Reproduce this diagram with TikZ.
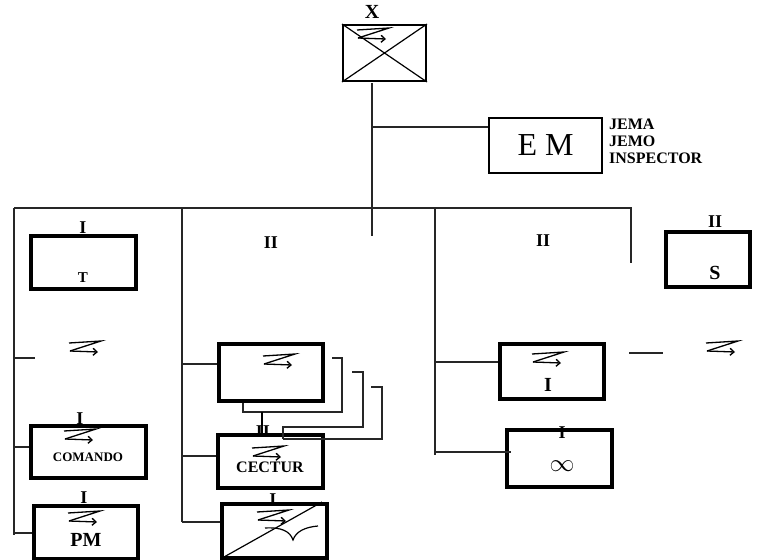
\documentclass[tikz,border=0pt]{standalone}
\usepackage{fontspec}
\setmainfont{Liberation Serif}
\usetikzlibrary{arrows.meta, positioning, calc}

\tikzset{
  unidad/.style={draw, line width=3.2pt, inner sep=0pt},
  enlace/.style={line width=1.3pt, black!85},
  rotulo/.style={font=\bfseries\fontsize{18}{18}\selectfont, inner sep=0pt},
  signo/.pic={
    \draw[line width=1.3pt] (-16,-5) -- (16,-7) -- (-15,3);
    \draw[line width=1.3pt, -{Straight Barb[length=4pt,width=7pt]}] (-15,3) -- (13,4);
  }
}

\begin{document}
\begin{tikzpicture}[x=1pt, y=-1pt]
\useasboundingbox (0,0) rectangle (761,560);

% mando superior
\node[draw, line width=2pt, minimum width=83pt, minimum height=56pt] (X) at (384.5,53) {};
\draw[line width=1.2pt] (X.north west) -- (X.south east) (X.north east) -- (X.south west);
\pic at (373,35) {signo};
\node[rotulo, font=\bfseries\fontsize{20}{20}\selectfont] (Xl) at (372,12) {X};

\node[draw, line width=2pt, minimum width=113pt, minimum height=55pt,
      font=\fontsize{32}{32}\selectfont] (EM) at (545.5,145.5) {E M};
\node[anchor=west, align=left, inner sep=0pt, font=\bfseries\fontsize{16}{17}\selectfont] (cargos) at (609,141) {JEMA\\JEMO\\INSPECTOR};

\coordinate (t1) at (372,83);
\coordinate (t2) at (372,236);
\coordinate (e1) at (372,127);
\draw[enlace] (t1) -- (t2);
\draw[enlace] (e1) -- (e1 -| EM.west);

% barra general
\coordinate (bA) at (14,208);
\coordinate (bB) at (182,208);
\coordinate (bC) at (435,208);
\coordinate (bD) at (631,208);
\draw[enlace] (bA) -- (bD) -- (631,263);
\draw[enlace] (bA) -- (14,535);
\draw[enlace] (bB) -- (182,522);
\draw[enlace] (bC) -- (435,455);

% columna A
\node[unidad, minimum width=105pt, minimum height=53pt] (T) at (83.5,262.5) {};
\node[rotulo] (Tl) at (83,228) {I};
\node[rotulo, font=\bfseries\fontsize{15}{15}\selectfont] (Tt) at (83,278) {T};

\coordinate (a1) at (14,358);
\draw[enlace] (a1) -- (35,358);
\pic at (85,348) {signo};

\node[unidad, minimum width=115pt, minimum height=52pt] (COM) at (88.5,452) {};
\node[rotulo] (COMl) at (80,419) {I};
\pic at (80,436) {signo};
\node[rotulo, font=\bfseries\fontsize{13}{13}\selectfont] (COMt) at (88,457) {COMANDO};
\coordinate (a2) at (14,447);
\draw[enlace] (a2) -- (a2 -| COM.west);

\node[unidad, minimum width=104pt, minimum height=53pt] (PM) at (86,532.5) {};
\node[rotulo] (PMl) at (84,498) {I};
\pic at (84,518) {signo};
\node[rotulo, font=\bfseries\fontsize{20}{20}\selectfont] (PMt) at (86,540) {PM};
\coordinate (a3) at (14,533);
\draw[enlace] (a3) -- (a3 -| PM.west);

% columna B
\node[rotulo] (Bl) at (271,243) {II};

\node[unidad, minimum width=104pt, minimum height=57pt] (B1) at (271,372.5) {};
\pic at (279,361) {signo};
\coordinate (b1) at (182,364);
\draw[enlace] (b1) -- (b1 -| B1.west);

\node[unidad, minimum width=105pt, minimum height=53pt] (CEC) at (270.5,461.5) {};
\node[rotulo] (CECl) at (263,432) {II};
\pic at (268,453) {signo};
\node[rotulo, font=\bfseries\fontsize{16}{16}\selectfont] (CECt) at (270,467) {CECTUR};
\coordinate (b2) at (182,456);
\draw[enlace] (b2) -- (b2 -| CEC.west);

\node[unidad, minimum width=105pt, minimum height=54pt] (B3) at (274.5,531) {};
\draw[line width=4.5pt] (262,504) -- (290,504);
\node[rotulo] (B3l) at (273,500) {I};
\pic at (273,517) {signo};
\draw[line width=1.2pt] (224,557) -- (322,502);
\draw[line width=1.2pt] (265,528) .. controls (281,527) and (290,531) .. (293,540)
  .. controls (296,531) and (306,527) .. (318,526);
\coordinate (b3) at (182,522);
\draw[enlace] (b3) -- (b3 -| B3.west);

% enlaces entre B1 y CECTUR
\coordinate (g1) at (243,412);
\coordinate (g2) at (262,412);
\draw[enlace, line width=1.6pt] (332,358) -| (342,412) -- (g1) -- (g1 |- B1.south);
\draw[line width=2.4pt] (g2) -- (g2 |- CEC.north);
\draw[enlace, line width=1.6pt] (352,372) -| (363,427) -| (283,439);
\draw[enlace, line width=1.6pt] (371,387) -| (382,439) -- (283,439);

% columna C
\node[rotulo] (Cl) at (543,241) {II};

\node[unidad, minimum width=104pt, minimum height=55pt] (BI) at (552,371.5) {};
\pic at (548,359) {signo};
\node[rotulo, font=\bfseries\fontsize{20}{20}\selectfont] (BIt) at (548,385) {I};
\coordinate (c1) at (435,362);
\draw[enlace] (c1) -- (c1 -| BI.west);

\node[unidad, minimum width=105pt, minimum height=57pt] (Binf) at (559.5,458.5) {};
\node[rotulo] (Binfl) at (562,433) {I};
\node[inner sep=0pt, font=\fontsize{28}{28}\selectfont] (Binft) at (562,466) {$\infty$};
\coordinate (c2) at (435,452);
\draw[enlace] (c2) -- ($(c2 -| Binf.west)+(6,0)$);

\coordinate (d1) at (629,353);
\draw[enlace] (d1) -- (663,353);
\pic at (722,348) {signo};

% columna D
\node[unidad, minimum width=84pt, minimum height=55pt] (S) at (708,259.5) {};
\node[rotulo] (Sl) at (715,222) {II};
\node[rotulo, font=\bfseries\fontsize{20}{20}\selectfont] (St) at (715,273) {S};
\end{tikzpicture}
\end{document}
